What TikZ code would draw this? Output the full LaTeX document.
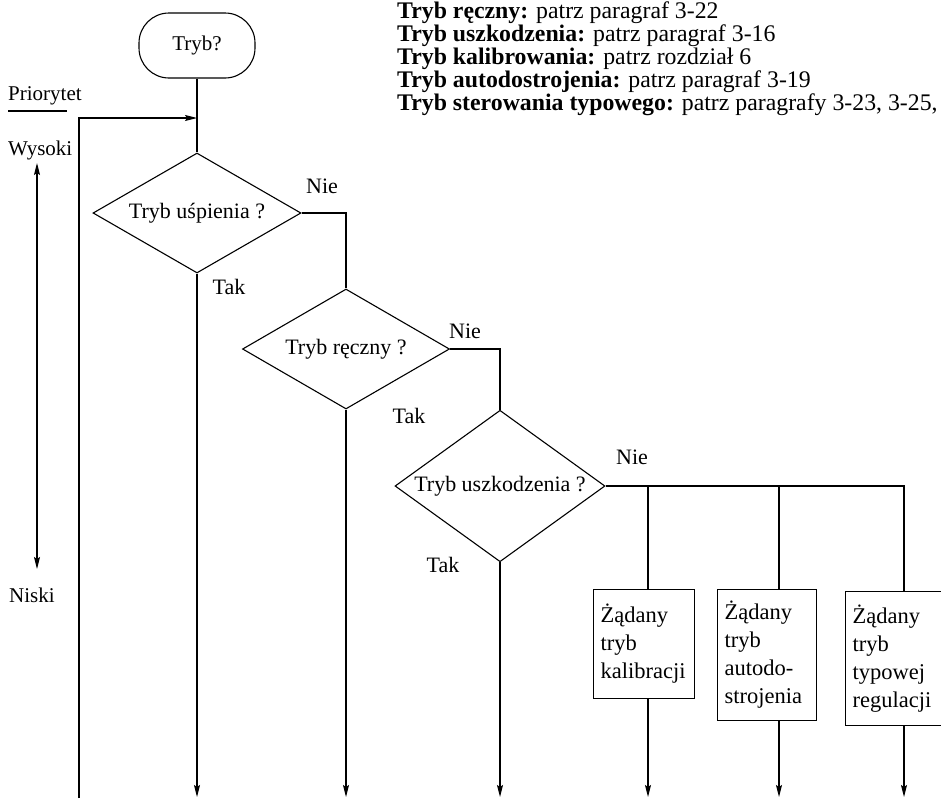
\documentclass[tikz,border=0pt]{standalone}
\usepackage{fontspec}
\setmainfont{Liberation Serif}
\usetikzlibrary{shapes.geometric, arrows.meta, positioning}
\tikzset{
  startstop/.style = {
    rectangle, rounded corners=30pt, draw=black, line width=1.1pt,
    minimum width=116pt, minimum height=65pt,
    text centered, font=\fontsize{21}{25}\selectfont
  },
  decision/.style = {
    diamond, draw=black, line width=1.1pt, inner xsep=-20pt, inner ysep=0pt,
    minimum width=208pt, minimum height=120pt,
    text centered, font=\fontsize{22}{26}\selectfont
  },
  process/.style = {
    rectangle, draw=black, line width=1.1pt, anchor=north west,
    align=left, inner xsep=7pt, inner ysep=10pt,
    font=\fontsize{22.5}{28}\selectfont
  },
  answer/.style = {inner sep=0pt, font=\fontsize{22}{26}\selectfont},
  sidetext/.style = {anchor=base west, inner sep=0pt, font=\fontsize{21}{25}\selectfont},
  reftext/.style = {anchor=base west, inner sep=0pt, font=\fontsize{23.8}{23}\selectfont},
  conn/.style = {line width=1.1pt},
  myarrow/.style = {-{Stealth[length=12pt, width=6pt, inset=2pt]}, line width=1.1pt},
  dblarrow/.style = {{Stealth[length=12pt, width=6pt, inset=2pt]}-{Stealth[length=12pt, width=6pt, inset=2pt]}, line width=1.1pt}
}
\begin{document}
\begin{tikzpicture}[x=1pt, y=-1pt, node distance=8pt]
  \useasboundingbox (0,0) rectangle (941,798);
  % Nodes
  \node[startstop] (start) at (197,45.5) {Tryb?};
  \node[decision] (sleep) at (197,213) {Tryb uśpienia ?};
  \node[decision, minimum width=207pt] (manual) at (346,349) {Tryb ręczny ?};
  \node[decision, minimum width=210pt, minimum height=130pt] (fault) at (500,486) {Tryb uszkodzenia ?};

  \node[process, text width=87pt, minimum height=109pt] (calib) at (593,589) {Żądany\\tryb\\kalibracji};
  \node[process, text width=85pt, minimum height=131pt] (tune) at (717,589) {Żądany\\tryb\\autodo-\\strojenia};
  \node[process, text width=90pt, minimum height=134pt] (typical) at (845,591) {Żądany\\tryb\\typowej\\regulacji};

  % Answers
  \node[answer] (nie1) at (322,186) {Nie};
  \node[answer] (tak1) at (229,287) {Tak};
  \node[answer] (nie2) at (465,331) {Nie};
  \node[answer] (tak2) at (409,416) {Tak};
  \node[answer] (nie3) at (632,457) {Nie};
  \node[answer] (tak3) at (443,565) {Tak};

  % References
  \node[reftext] (ref1) at (397,18) {\textbf{Tryb ręczny:} patrz paragraf 3-22};
  \node[reftext] (ref2) at (397,41) {\textbf{Tryb uszkodzenia:} patrz paragraf 3-16};
  \node[reftext] (ref3) at (397,64) {\textbf{Tryb kalibrowania:} patrz rozdział 6};
  \node[reftext] (ref4) at (397,87) {\textbf{Tryb autodostrojenia:} patrz paragraf 3-19};
  \node[reftext] (ref5) at (397,110) {\textbf{Tryb sterowania typowego:} patrz paragrafy 3-23, 3-25,};

  % Priority scale
  \node[sidetext] (prio) at (8,100) {Priorytet};
  \node[sidetext] (high) at (8,155) {Wysoki};
  \node[sidetext] (low) at (9,602) {Niski};
  \coordinate (hi) at (37,163);
  \coordinate (lo) at (37,569);

  % Free ends
  \coordinate (join) at (197,118);
  \coordinate (loop) at (79,798);
  \coordinate (br1) at (648,486);
  \coordinate (br2) at (779,486);
  \coordinate (br3) at (904,486);
  \coordinate (out1) at (197,797);
  \coordinate (out2) at (346,797);
  \coordinate (out3) at (500,797);
  \coordinate (out4) at (648,797);
  \coordinate (out5) at (779,797);
  \coordinate (out6) at (904,797);

  % Connections
  \draw[conn] (start) -- (sleep);
  \draw[myarrow] (loop) |- (join);
  \draw[conn] (sleep.east) -| (manual.north);
  \draw[conn] (manual.east) -| (fault.north);
  \draw[conn] (fault.east) -- (br3) -- (br3 |- typical.north);
  \draw[conn] (br1) -- (br1 |- calib.north);
  \draw[conn] (br2) -- (br2 |- tune.north);
  \draw[myarrow] (sleep.south) -- (out1);
  \draw[myarrow] (manual.south) -- (out2);
  \draw[myarrow] (fault.south) -- (out3);
  \draw[myarrow] (out4 |- calib.south) -- (out4);
  \draw[myarrow] (out5 |- tune.south) -- (out5);
  \draw[myarrow] (out6 |- typical.south) -- (out6);
  \draw[conn] ([yshift=-11pt]prio.base west) -- ++(59,0);
  \draw[dblarrow] (hi) -- (lo);
\end{tikzpicture}
\end{document}
